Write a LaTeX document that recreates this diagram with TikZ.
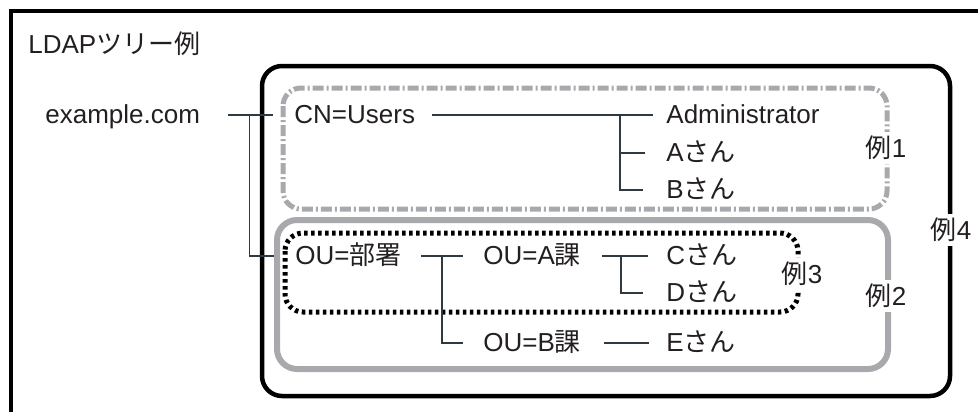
\documentclass[tikz,border=0pt]{standalone}
\usepackage{fontspec}
\setmainfont{Liberation Sans}
\newfontfamily\jpfont{Noto Sans CJK JP}
\newcommand{\ja}[1]{{\jpfont #1}}
\usetikzlibrary{calc}
\definecolor{boxgray}{HTML}{A7A9AC}
\definecolor{linecol}{HTML}{2E3A40}
\definecolor{inkcol}{HTML}{231F20}
\tikzset{
    entry/.style={anchor=base west, inner sep=0pt, text height=8pt, text depth=0pt, font=\fontsize{13}{15}\selectfont, text=inkcol},
    conn/.style={draw=linecol, line width=0.6pt},
    tag/.style={fill=white, inner sep=2pt, font=\fontsize{13}{15}\selectfont, text=inkcol}
}

\begin{document}
\begin{tikzpicture}[x=0.5pt, y=-0.5pt,
    ex4box/.style={draw=black, line width=2.25pt, rounded corners=10pt},
    ex1box/.style={draw=boxgray, line width=2.5pt, rounded corners=9pt, dash pattern=on 5.5pt off 1.5pt on 1pt off 1.5pt},
    ex2box/.style={draw=boxgray, line width=3pt, rounded corners=10pt},
    ex3box/.style={draw=black, line width=2.5pt, rounded corners=9pt, dash pattern=on 1.75pt off 1.75pt}]

    \useasboundingbox (0,0) rectangle (978,412);

    % Frame (cut off at right and bottom)
    \draw[line width=1.6pt] (11,412) -- (11,11) -- (978,11);

    % Groups
    \draw[ex4box] (262,66) rectangle (950,396);
    \draw[ex1box] (283,88) rectangle (887,209);
    \draw[ex2box] (277,220) rectangle (888,369);
    \draw[ex3box] (285,233) rectangle (798,312);

    % Entries
    \node (title) [entry] at (28,53) {LDAP\ja{ツリー例}};
    \node (root) [entry] at (45,123) {example.com};
    \node (users) [entry] at (294,123) {CN=Users};
    \node (admin) [entry] at (666,123) {Administrator};
    \node (ua) [entry] at (666,161) {A\ja{さん}};
    \node (ub) [entry] at (666,198) {B\ja{さん}};
    \node (bu) [entry] at (295,264) {OU=\ja{部署}};
    \node (ka) [entry] at (483,264) {OU=A\ja{課}};
    \node (kb) [entry] at (483,351) {OU=B\ja{課}};
    \node (uc) [entry] at (666,264) {C\ja{さん}};
    \node (ud) [entry] at (666,301) {D\ja{さん}};
    \node (ue) [entry] at (666,351) {E\ja{さん}};

    % Junctions
    \coordinate (jr) at ($(root.east)+(49,0)$);
    \coordinate (ju) at ($(admin.west)+(-46,0)$);
    \coordinate (jb) at ($(ka.west)+(-41,0)$);
    \coordinate (jc) at ($(uc.west)+(-45,0)$);

    % Connectors
    \draw[conn] ($(root.east)+(28,0)$) -- ($(users.west)+(-21,0)$);
    \draw[conn] (jr) |- ($(bu.west)+(-21,0)$);

    \draw[conn] ($(users.east)+(17,0)$) -- ($(admin.west)+(-13,0)$);
    \draw[conn] (ju) |- ($(ub.west)+(-23,0)$);
    \draw[conn] (ju |- ua.west) -- ($(ua.west)+(-21,0)$);

    \draw[conn] ($(bu.east)+(19,0)$) -- ($(ka.west)+(-20,0)$);
    \draw[conn] (jb) |- ($(kb.west)+(-20,0)$);

    \draw[conn] ($(ka.east)+(21,0)$) -- ($(uc.west)+(-18,0)$);
    \draw[conn] (jc) |- ($(ud.west)+(-23,0)$);

    \draw[conn] ($(kb.east)+(23,0)$) -- ($(ue.west)+(-17,0)$);

    % Labels
    \node (l1) [tag] at (886,148) {\ja{例}1};
    \node (l2) [tag] at (886,296) {\ja{例}2};
    \node (l3) [tag] at (802,274) {\ja{例}3};
    \node (l4) [tag] at (951,230) {\ja{例}4};
\end{tikzpicture}
\end{document}
